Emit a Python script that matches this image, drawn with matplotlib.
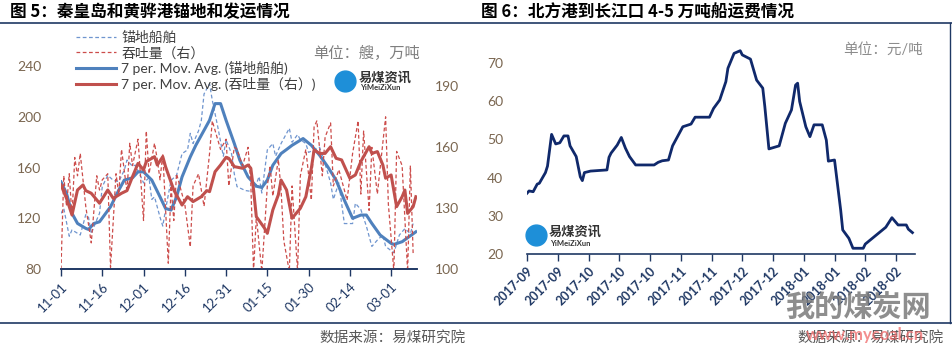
import numpy as np
import matplotlib
matplotlib.use("Agg")
import matplotlib.pyplot as plt
from matplotlib.lines import Line2D

plt.rcParams["font.family"] = ["Lato", "Noto Sans CJK SC", "DejaVu Sans"]

# ---------------- Figure 5 data (days counted from 11-01) ----------------
ship_days = [0, 1, 3, 4, 7, 9, 10, 11, 13, 14, 15, 17, 19, 21, 23, 24, 26, 27, 29, 30,
             32, 33, 34, 36, 37, 38, 40, 42, 44, 46, 47, 48, 50, 51, 52, 54, 55, 57, 59, 60,
             62, 63, 64, 67, 70, 72, 73, 75, 77, 78, 80, 83, 84, 86, 87, 89, 90, 92, 94, 96,
             98, 99, 101, 103, 106, 107, 109, 111, 113, 115, 117, 118, 121, 123, 125, 127, 128]
ship_vals = [124, 128, 106, 111, 107, 123, 121, 108, 119, 124, 145, 154, 150, 149, 158, 166, 161, 162, 153, 148,
             152, 135, 137, 121, 114, 127, 150, 154, 171, 174, 187, 179, 189, 197, 218, 226, 213, 192, 169, 182,
             171, 155, 145, 142, 141, 153, 140, 174, 179, 169, 179, 191, 180, 186, 182, 179, 172, 174, 176, 163,
             148, 135, 148, 116, 116, 132, 127, 114, 98, 103, 107, 98, 93, 107, 112, 108, 116]

ship_ma_days = [0, 2, 4, 6, 9, 10, 12, 14, 18, 21, 23, 26, 28, 30, 33, 36, 38, 40, 42, 44,
                47, 49, 52, 54, 56, 58, 60, 63, 65, 68, 71, 73, 75, 77, 80, 82, 84, 88, 91, 94,
                97, 100, 103, 106, 109, 111, 113, 116, 120, 121, 124, 129]
ship_ma_vals = [148.8, 139.7, 124, 116.1, 112.2, 111.4, 116.1, 117.4, 129.2, 142.3, 150.2, 152, 156.7, 156.7, 150.2, 137, 127.9, 126.6, 137, 152.7,
                168.5, 177.6, 189.4, 197.3, 210.4, 210.4, 197.3, 179, 165.9, 152.7, 145.4, 144.4, 150.2, 161.9, 171.1, 174.3, 177.6, 182.9, 177.6, 169.8,
                160.6, 150.2, 134.4, 120.1, 122.7, 122.7, 116.1, 107, 100.4, 99.6, 101.7, 109.5]

thru_days = [0, 1, 2, 3, 4, 5, 6, 7, 9, 11, 13, 14, 15, 17, 18, 20, 21, 22, 24, 25,
             26, 28, 30, 31, 32, 34, 35, 36, 37, 39, 40, 41, 42, 45, 47, 48, 50, 52, 54, 55,
             58, 60, 61, 63, 64, 66, 68, 69, 70, 71, 73, 75, 76, 77, 79, 80, 81, 83, 84, 86,
             87, 89, 91, 92, 93, 95, 96, 98, 99, 101, 104, 106, 108, 109, 110, 112, 113, 115, 118, 119,
             121, 122, 124, 126, 127, 128]
thru_vals = [100, 146, 131, 147, 126, 155, 146, 157, 131, 113, 146, 139, 144, 147, 101, 147, 137, 159, 138, 162,
             151, 164, 124, 168, 147, 162, 154, 144, 157, 103, 141, 124, 147, 132, 111, 141, 147, 131, 157, 173,
             159, 164, 141, 160, 159, 151, 160, 142, 99, 126, 99, 141, 151, 136, 154, 139, 114, 99, 141, 99,
             146, 159, 134, 170, 173, 146, 165, 172, 141, 149, 134, 157, 173, 137, 168, 129, 160, 137, 175, 132,
             99, 158, 151, 99, 151, 108]

thru_ma_days = [0, 2, 4, 6, 8, 9, 11, 14, 17, 19, 22, 24, 26, 28, 30, 31, 34, 35, 37, 38,
                41, 44, 46, 48, 51, 53, 54, 56, 58, 60, 61, 63, 66, 68, 69, 70, 71, 74, 75, 77,
                79, 80, 82, 84, 87, 89, 91, 92, 94, 96, 98, 100, 102, 105, 107, 109, 112, 113, 115, 117,
                118, 120, 122, 124, 125, 126, 128, 129]
thru_ma_vals = [141.5, 134.9, 126.7, 139, 141.5, 138.7, 137.4, 132.5, 139, 134.9, 137.4, 138.7, 145.6, 152.1, 148.9, 153, 155.4, 151.3, 155.4, 150.5,
                139, 131.6, 135.7, 133.3, 135.7, 138.7, 138.2, 148, 151.3, 155.1, 154.6, 150.5, 149.7, 151.3, 149.7, 139, 125.9, 120.2, 117.7, 129.2,
                136.6, 143.9, 139, 125.1, 130, 135.7, 149.7, 158.7, 157, 157, 160.3, 154.6, 153.8, 144.8, 146.4, 153, 160.3, 157, 157.9, 151.3,
                144.8, 146.4, 130.8, 135.7, 139, 127.5, 130.8, 135.7]

f5_ticks = [0, 15, 30, 45, 60, 75, 90, 105, 120]
f5_labels = ["11-01", "11-16", "12-01", "12-16", "12-31", "01-15", "01-30", "02-14", "03-01"]

# ---------------- Figure 6 data (days counted from 2017-09-01) ----------------
freight_days = [0, 1, 3, 5, 6, 9, 10, 12, 14, 16, 18, 20, 21, 24, 26, 27, 28, 31, 39, 40,
                41, 44, 46, 48, 50, 53, 62, 64, 66, 69, 71, 73, 76, 80, 82, 89, 91, 94, 97, 98,
                101, 104, 105, 109, 112, 115, 116, 118, 123, 126, 129, 131, 132, 133, 136, 138, 140, 144, 146, 147,
                150, 153, 154, 157, 159, 164, 165, 175, 178, 181, 185, 186, 188]
freight_vals = [35.9, 36.5, 36.3, 38.3, 38.5, 41.3, 43.0, 51.3, 48.8, 49.1, 50.9, 50.9, 48.3, 45.5, 40.2, 39.2, 41.3, 41.7, 42.0, 45.3,
                46.4, 48.5, 50.5, 47.7, 45.5, 43.3, 43.3, 44.0, 44.4, 44.6, 48.3, 50.3, 53.3, 54.0, 55.8, 55.8, 58.1, 60.3, 65.1, 68.6,
                72.5, 73.2, 72.1, 71.0, 65.5, 63.4, 58.6, 47.5, 48.3, 54.2, 57.7, 64.2, 64.7, 59.9, 53.3, 50.7, 53.8, 53.8, 49.8, 44.3,
                44.6, 31.5, 26.3, 24.1, 21.5, 21.5, 22.6, 27.0, 29.5, 27.6, 27.6, 26.5, 25.6]

f6_ticks = list(range(0, 181, 15))
f6_labels = ["2017-09", "2017-09", "2017-10", "2017-10", "2017-10", "2017-11", "2017-11",
             "2017-12", "2017-12", "2018-01", "2018-01", "2018-02", "2018-02"]

NAVY = "#1f3864"
NUM = "#7a6650"
GRAY = "#595959"
W, H = 952, 353

fig = plt.figure(figsize=(W / 100, H / 100), dpi=100)


def fx(px):
    return px / W


def fy(py):
    return 1 - py / H


# frame lines
fig.add_artist(Line2D([0, 1], [fy(23), fy(23)], color=NAVY, lw=1.2, transform=fig.transFigure))
fig.add_artist(Line2D([0, 1], [fy(323), fy(323)], color=NAVY, lw=1.2, transform=fig.transFigure))
fig.add_artist(Line2D([fx(950), fx(950)], [fy(23), fy(323)], color=NAVY, lw=1.0, transform=fig.transFigure))

# titles
fig.text(fx(10), fy(12), "图 5：秦皇岛和黄骅港锚地和发运情况", fontsize=12, fontweight="bold",
         family=["Noto Sans CJK SC"], va="center", ha="left", color="black")
fig.text(fx(481), fy(12), "图 6：北方港到长江口 4-5 万吨船运费情况", fontsize=12, fontweight="bold",
         family=["Noto Sans CJK SC"], va="center", ha="left", color="black")

# ---------------- left chart ----------------
ax = fig.add_axes([fx(61), fy(269.3), fx(416.7 - 61), (269.3 - 66) / H])
ax2 = ax.twinx()

l1, = ax.plot(ship_days, ship_vals, color="#6f95cf", lw=0.9, ls=(0, (3, 2)))
l3, = ax.plot(ship_ma_days, ship_ma_vals, color="#4f81bd", lw=2.2)
l2, = ax2.plot(thru_days, thru_vals, color="#cc4c4a", lw=0.9, ls=(0, (3, 2)))
l4, = ax2.plot(thru_ma_days, thru_ma_vals, color="#c0504d", lw=2.2)

ax.set_xlim(0, 129.3)
ax.set_ylim(80, 240)
ax2.set_ylim(100, 200)
ax.set_yticks([80, 120, 160, 200, 240])
ax2.set_yticks([100, 130, 160, 190])
ax.set_xticks(f5_ticks)
ax.set_xticklabels(f5_labels, rotation=45, ha="right", rotation_mode="anchor")

for a in (ax, ax2):
    for s in ("top", "left", "right"):
        a.spines[s].set_visible(False)
    a.spines["bottom"].set_color(NAVY)
    a.spines["bottom"].set_linewidth(1.2)
    a.tick_params(axis="y", length=0, labelsize=10, labelcolor=NUM)
ax.tick_params(axis="y", pad=14)
ax2.tick_params(axis="y", pad=13)
ax.tick_params(axis="x", length=5, color=NAVY, width=1.0, labelsize=9.5, labelcolor=NAVY, pad=3)

leg = ax2.legend([l1, l2, l3, l4],
                 ["锚地船舶", "吞吐量（右）", "7 per. Mov. Avg. (锚地船舶)", "7 per. Mov. Avg. (吞吐量（右）)"],
                 loc="upper left", bbox_to_anchor=(fx(76), fy(31)), bbox_transform=fig.transFigure,
                 frameon=False, fontsize=10, handlelength=2.9, handletextpad=0.35,
                 labelspacing=0.12, borderpad=0, borderaxespad=0)
for t in leg.get_texts():
    t.set_color("#404040")

fig.text(fx(313), fy(53), "单位：艘，万吨", fontsize=11, color="#7f7f7f", va="center", ha="left")

# logo (left)
fig.add_artist(Line2D([fx(345)], [fy(81)], marker="o", markersize=15, color="#1e8fd8",
                      transform=fig.transFigure))
fig.text(fx(359), fy(77), "易煤资讯", fontsize=9.5, fontweight="bold", color="#333333", va="center", ha="left")
fig.text(fx(360), fy(88), "YiMeiZiXun", fontsize=5.5, fontweight="bold", color="#333333", va="center", ha="left")

fig.text(fx(393), fy(338), "数据来源：易煤研究院", fontsize=10.5, color=GRAY, va="center", ha="center")

# ---------------- right chart ----------------
bx = fig.add_axes([fx(527), fy(254), fx(915.3 - 527), (254 - 40) / H])
bx.plot(freight_days, freight_vals, color="#10296b", lw=2.0)
bx.set_xlim(0, 189.4)
bx.set_ylim(20, 76)
bx.set_yticks([20, 30, 40, 50, 60, 70])
bx.set_xticks(f6_ticks)
bx.set_xticklabels(f6_labels, rotation=45, ha="right", rotation_mode="anchor", fontweight="bold")
for s in ("top", "left", "right"):
    bx.spines[s].set_visible(False)
bx.spines["bottom"].set_color(NAVY)
bx.spines["bottom"].set_linewidth(1.2)
bx.tick_params(axis="y", length=0, labelsize=10, labelcolor=NUM, pad=17)
bx.tick_params(axis="x", length=5, color=NAVY, width=1.0, labelsize=9, labelcolor=NAVY, pad=3)

fig.text(fx(843), fy(50), "单位：元/吨", fontsize=10.5, color="#8c8c8c", va="center", ha="left")

# logo (right)
fig.add_artist(Line2D([fx(536)], [fy(235)], marker="o", markersize=15, color="#1e8fd8",
                      transform=fig.transFigure))
fig.text(fx(549), fy(231), "易煤资讯", fontsize=9.5, fontweight="bold", color="#333333", va="center", ha="left")
fig.text(fx(550), fy(243), "YiMeiZiXun", fontsize=5.5, fontweight="bold", color="#333333", va="center", ha="left")

fig.text(fx(871), fy(338), "数据来源：易煤研究院", fontsize=10.5, color=GRAY, va="center", ha="center")

# watermark
fig.text(fx(858), fy(308), "我的煤炭网", fontsize=21, fontweight="bold", color="#7a7a7a", alpha=0.85,
         va="center", ha="center")
fig.text(fx(865), fy(335), "www.mycoal.cn", fontsize=12, fontweight="bold", color="#f06a6a", alpha=0.75,
         va="center", ha="center")

fig.savefig("out.png", dpi=100)
